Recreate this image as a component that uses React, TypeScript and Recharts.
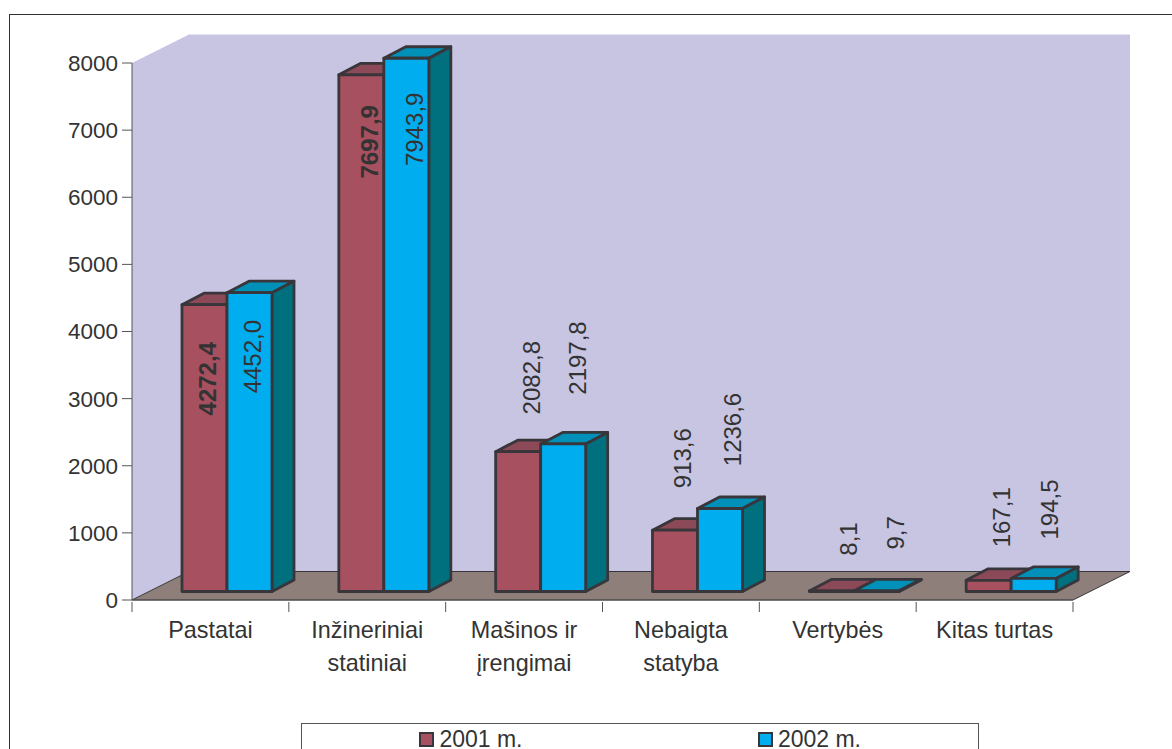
import React from 'react';
import { BarChart, Bar, XAxis, YAxis, Legend, LabelList, ReferenceArea, Text } from 'recharts';

const categories = ['Pastatai', 'Inžineriniai statiniai', 'Mašinos ir įrengimai', 'Nebaigta statyba', 'Vertybės', 'Kitas turtas'];
const values2001 = [4272.4, 7697.9, 2082.8, 913.6, 8.1, 167.1];
const values2002 = [4452.0, 7943.9, 2197.8, 1236.6, 9.7, 194.5];
const labels2001 = ['4272,4', '7697,9', '2082,8', '913,6', '8,1', '167,1'];
const labels2002 = ['4452,0', '7943,9', '2197,8', '1236,6', '9,7', '194,5'];
const yTicks = [0, 1000, 2000, 3000, 4000, 5000, 6000, 7000, 8000];

// Offset from the top centre of a bar's front face to the centre of its rotated label.
const labelShiftY2001 = [74, 67, -74, -72, -52, -63];
const labelShiftY2002 = [64, 71, -86, -79, -58, -69];
const labelShiftX2001 = [3.5, 8.5, 13.5, 7.5, 16.5, 12.5];
const labelShiftX2002 = [3.5, 8.5, 14.5, 12.5, 18.5, 15.5];
const boldLabels2001 = [true, true, false, false, false, false];
const boldLabels2002 = [false, false, false, false, false, false];

const data = categories.map((name, i) => ({
  name,
  y2001: values2001[i],
  y2002: values2002[i],
}));

const FONT = '"Liberation Sans", Arial, sans-serif';
const AXIS_FONT_SIZE = 22.5;
const CATEGORY_FONT_SIZE = 23.4;
const VALUE_FONT_SIZE = 24;
const INK = '#333333';
const EDGE = '#38363a';
const AXIS = '#555555';
const WALL = '#c8c5e2';
const FLOOR = '#8e7f7b';

const seriesColours = {
  y2001: { front: '#a65060', top: '#8c4a58', side: '#7a3f4c' },
  y2002: { front: '#00adef', top: '#0090b8', side: '#00707f' },
};

const BOX = { left: 132, top: 63, width: 941, height: 537 };
const BAND = BOX.width / categories.length;
const LEGEND_HEIGHT = 40;
const DEPTH_X = 57;
const DEPTH_Y = 28.5;
const BAR_DEPTH_X = 22;
const BAR_DEPTH_Y = 11.5;
const BAR_SHIFT_X = 17;
const BAR_SHIFT_Y = -8.5;

const points = (list: number[][]) => list.map((p) => p.join(',')).join(' ');

// Side wall, back wall and floor of the 3-D box.
function Room({ x, y, width, height }: any) {
  const b = y + height;
  const r = x + width;
  return (
    <g>
      <polygon
        fill={WALL}
        points={points([
          [x, y],
          [x + DEPTH_X, y - DEPTH_Y],
          [r + DEPTH_X, y - DEPTH_Y],
          [r + DEPTH_X, b - DEPTH_Y],
          [x + DEPTH_X, b - DEPTH_Y],
          [x, b],
        ])}
      />
      <polygon
        fill={FLOOR}
        stroke={EDGE}
        strokeWidth={1}
        points={points([
          [x, b],
          [x + DEPTH_X, b - DEPTH_Y],
          [r + DEPTH_X, b - DEPTH_Y],
          [r, b],
        ])}
      />
    </g>
  );
}

function makeBlock(colours: { front: string; top: string; side: string }) {
  return function Block({ x, y, width, height }: any) {
    const l = x + BAR_SHIFT_X;
    const r = l + width;
    const t = y + BAR_SHIFT_Y;
    const b = t + height;
    const common = { stroke: EDGE, strokeWidth: 2.8, strokeLinejoin: 'round' as const };
    return (
      <g>
        <polygon
          {...common}
          fill={colours.top}
          points={points([
            [l, t],
            [l + BAR_DEPTH_X, t - BAR_DEPTH_Y],
            [r + BAR_DEPTH_X, t - BAR_DEPTH_Y],
            [r, t],
          ])}
        />
        <polygon
          {...common}
          fill={colours.side}
          points={points([
            [r, t],
            [r + BAR_DEPTH_X, t - BAR_DEPTH_Y],
            [r + BAR_DEPTH_X, b - BAR_DEPTH_Y],
            [r, b],
          ])}
        />
        <rect {...common} x={l} y={t} width={width} height={height} fill={colours.front} />
      </g>
    );
  };
}

function makeValueLabel(texts: string[], shiftX: number[], shiftY: number[], bold: boolean[]) {
  return function ValueLabel({ x, y, width, index }: any) {
    const cx = x + BAR_SHIFT_X + width / 2 + shiftX[index];
    const cy = y + BAR_SHIFT_Y + shiftY[index];
    return (
      <text
        x={cx}
        y={cy}
        transform={`rotate(-90 ${cx} ${cy})`}
        textAnchor="middle"
        dominantBaseline="central"
        fontFamily={FONT}
        fontSize={VALUE_FONT_SIZE}
        fontWeight={bold[index] ? 700 : 400}
        fill={INK}
      >
        {texts[index]}
      </text>
    );
  };
}

// The ticks mark the edges of the categories, with the name centred between them.
function CategoryTick({ x, y, payload, index }: any) {
  const tickTop = y - 10;
  return (
    <g>
      <line x1={x - BAND / 2} x2={x - BAND / 2} y1={tickTop} y2={y} stroke={AXIS} />
      {index === categories.length - 1 && (
        <line x1={x + BAND / 2} x2={x + BAND / 2} y1={tickTop} y2={y} stroke={AXIS} />
      )}
      <Text
        x={x}
        y={y + 9}
        width={114}
        textAnchor="middle"
        verticalAnchor="start"
        lineHeight={33}
        style={{ fontFamily: FONT, fontSize: CATEGORY_FONT_SIZE }}
        fill={INK}
      >
        {payload.value}
      </Text>
    </g>
  );
}

function LegendBox() {
  const swatch = (left: number, colour: string, text: string) => (
    <div style={{ position: 'absolute', left, top: 6, display: 'flex', alignItems: 'center' }}>
      <span style={{ width: 11, height: 11, background: colour, border: `2.8px solid ${EDGE}`, boxSizing: 'content-box' }} />
      <span style={{ marginLeft: 5.4, fontFamily: FONT, fontSize: 23, color: INK, lineHeight: '18px' }}>{text}</span>
    </div>
  );
  return (
    <div style={{ position: 'relative', width: 678, height: LEGEND_HEIGHT, border: '1px solid #555', background: '#fff', boxSizing: 'border-box' }}>
      {swatch(117, seriesColours.y2001.front, '2001 m.')}
      {swatch(455.5, seriesColours.y2002.front, '2002 m.')}
    </div>
  );
}

export default function App() {
  return (
    <div style={{ position: 'absolute', left: 0, top: 0, width: 1172, height: 749, overflow: 'hidden', background: '#fff' }}>
      <div style={{ position: 'absolute', left: 9, top: 13.5, width: 1172, height: 800, border: '1.5px solid #333', boxSizing: 'border-box' }} />
      <BarChart
        width={1172}
        height={749}
        data={data}
        barSize={45}
        barGap={0}
        barCategoryGap={33.5}
        margin={{ left: 0, top: BOX.top - LEGEND_HEIGHT, right: 1172 - BOX.left - BOX.width, bottom: 0 }}
        style={{ position: 'absolute', left: 0, top: 0 }}
      >
        <ReferenceArea y1={0} y2={8000} ifOverflow="visible" shape={<Room />} />
        <XAxis
          dataKey="name"
          interval={0}
          tick={<CategoryTick />}
          tickSize={10}
          tickLine={{ stroke: 'none' }}
          stroke={AXIS}
          height={749 - BOX.top - BOX.height}
        />
        <YAxis
          type="number"
          domain={[0, 8000]}
          ticks={yTicks}
          interval={0}
          width={BOX.left}
          tickSize={10}
          tickMargin={4}
          stroke={AXIS}
          tick={{ fontFamily: FONT, fontSize: AXIS_FONT_SIZE, fill: INK }}
        />
        <Bar dataKey="y2001" isAnimationActive={false} legendType="square" name="2001 m." shape={makeBlock(seriesColours.y2001)}>
          <LabelList content={makeValueLabel(labels2001, labelShiftX2001, labelShiftY2001, boldLabels2001)} />
        </Bar>
        <Bar dataKey="y2002" isAnimationActive={false} legendType="square" name="2002 m." shape={makeBlock(seriesColours.y2002)}>
          <LabelList content={makeValueLabel(labels2002, labelShiftX2002, labelShiftY2002, boldLabels2002)} />
        </Bar>
        <Legend
          content={<LegendBox />}
          layout="horizontal"
          align="left"
          verticalAlign="top"
          wrapperStyle={{ left: 301, top: 723, width: 678 }}
        />
      </BarChart>
    </div>
  );
}
